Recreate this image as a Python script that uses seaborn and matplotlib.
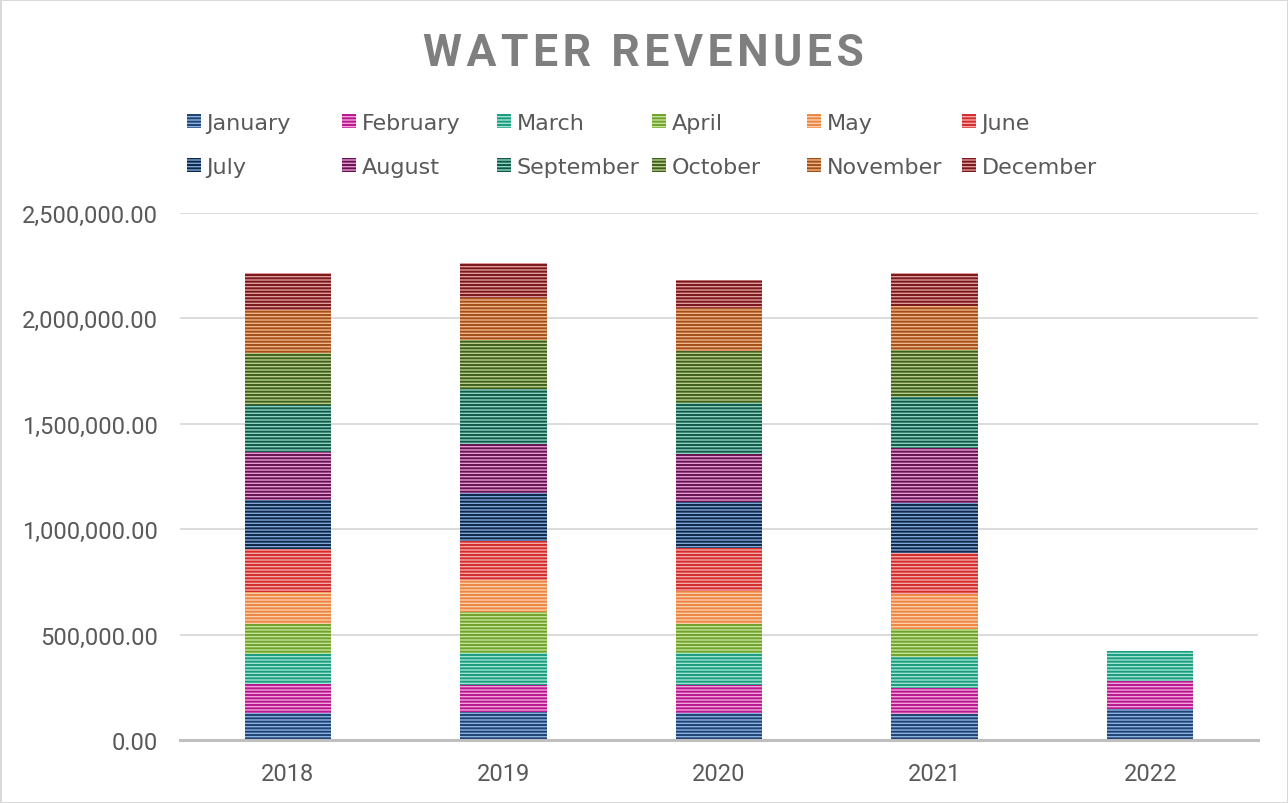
import matplotlib
matplotlib.use("Agg")
import matplotlib.pyplot as plt
import seaborn as sns
import pandas as pd
import numpy as np
from matplotlib.patches import Patch
from matplotlib.ticker import FuncFormatter

# ---------------- data ----------------
years = ["2018", "2019", "2020", "2021", "2022"]
months = ["January", "February", "March", "April", "May", "June",
          "July", "August", "September", "October", "November", "December"]

january   = [127000, 133000, 130000, 122000, 147000]
february  = [137000, 126000, 129000, 126000, 134000]
march     = [143000, 152000, 155000, 148000, 142000]
april     = [142000, 196000, 135000, 132000, 0]
may       = [153000, 152000, 158000, 163000, 0]
june      = [206000, 185000, 206000, 198000, 0]
july      = [229000, 227000, 218000, 237000, 0]
august    = [227000, 235000, 228000, 261000, 0]
september = [224000, 261000, 242000, 242000, 0]
october   = [250000, 231000, 245000, 220000, 0]
november  = [203000, 198000, 201000, 208000, 0]
december  = [174000, 169000, 135000, 158000, 0]

series = [january, february, march, april, may, june,
          july, august, september, october, november, december]

y_ticks = [0, 500000, 1000000, 1500000, 2000000, 2500000]

# ---------------- styles ----------------
face_colors = ["#8DB3E2", "#F3A5DA", "#A0E4D2", "#C6E39C", "#FAD0AB", "#F4A9A9",
               "#7FA6D8", "#E79BD6", "#8FD3BE", "#B6CD8C", "#F1B58B", "#DE9C9C"]
hatch_colors = ["#1E4272", "#B8168F", "#1C9C7E", "#6FA22B", "#EE8442", "#D42B2B",
                "#0F2747", "#66124F", "#115A4B", "#405E1C", "#A34F18", "#7A171A"]

sns.set_theme(style="white")
plt.rcParams["font.family"] = ["Roboto", "DejaVu Sans"]
plt.rcParams["hatch.linewidth"] = 1.4

fig = plt.figure(figsize=(12.88, 8.04), dpi=100)
W, H = 1288, 804
ax = fig.add_axes([180 / W, 1 - 741 / H, (1258 - 180) / W, (741 - 214) / H])

bottom = np.zeros(len(years))
for m, vals, fc, hc in zip(months, series, face_colors, hatch_colors):
    df = pd.DataFrame({"year": years, "value": vals})
    sns.barplot(data=df, x="year", y="value", order=years, bottom=bottom,
                color=fc, width=0.4, ax=ax, errorbar=None, saturation=1)
    cont = ax.containers[-1]
    for bar in cont:
        bar.set_facecolor(fc)
        bar.set_edgecolor(hc)
        bar.set_linewidth(0)
        bar.set_hatch("-----")
    bottom = bottom + np.array(vals, dtype=float)

ax.set_xlim(-0.5, len(years) - 0.5)
ax.set_ylim(0, 2500000)
ax.set_yticks(y_ticks)
ax.yaxis.set_major_formatter(FuncFormatter(lambda v, p: f"{v:,.2f}"))
ax.set_xlabel("")
ax.set_ylabel("")
ax.grid(axis="y", color="#D9D9D9", linewidth=1.3)
ax.set_axisbelow(True)
for s in ["top", "right", "left"]:
    ax.spines[s].set_visible(False)
ax.spines["bottom"].set_color("#BFBFBF")
ax.spines["bottom"].set_linewidth(2.2)
ax.tick_params(axis="both", length=0, labelsize=17, labelcolor="#595959")
ax.tick_params(axis="y", pad=16)
ax.tick_params(axis="x", pad=16)

# title (letter-spaced)
title = "\u200a".join("WATER REVENUES")
fig.text(643 / W, 1 - 54 / H, title, ha="center", va="center",
         fontsize=32, fontweight="semibold", color="#7F7F7F",
         family=["Roboto", "DejaVu Sans"])

# legend: six columns of two entries
handles = [Patch(facecolor=fc, edgecolor=hc, linewidth=0, hatch="-----", label=m)
           for m, fc, hc in zip(months, face_colors, hatch_colors)]
for i in range(6):
    leg = fig.legend(handles=[handles[i], handles[i + 6]],
                     loc="upper left", bbox_to_anchor=((187 + 155 * i) / W, 1 - 114 / H),
                     frameon=False, borderaxespad=0, borderpad=0,
                     handlelength=0.63, handleheight=0.63, handletextpad=0.25,
                     labelspacing=1.07,
                     prop={"family": ["DejaVu Sans"], "size": 16})
    for t in leg.get_texts():
        t.set_color("#595959")

fig.patch.set_edgecolor("#D9D9D9")
fig.patch.set_linewidth(2)

fig.savefig("out.png", dpi=100)
